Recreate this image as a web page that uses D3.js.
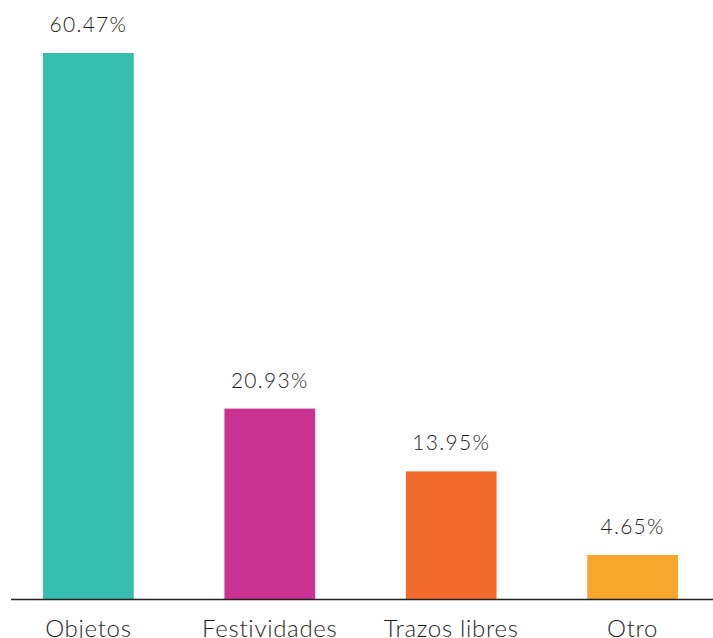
<!DOCTYPE html>
<html>
<head>
<meta charset="utf-8">
<script src="https://cdn.jsdelivr.net/npm/d3@7"></script>
<style>
  html, body { margin: 0; padding: 0; background: #fff; }
  svg { display: block; }
</style>
</head>
<body>
<svg id="chart" width="713" height="638"></svg>
<script>
const categories = ["Objetos", "Festividades", "Trazos libres", "Otro"];
const values = [60.47, 20.93, 13.95, 4.65];
const valueLabels = ["60.47%", "20.93%", "13.95%", "4.65%"];
const colors = ["#37BDAE", "#CC3391", "#F36A2D", "#F9A62C"];

const svg = d3.select("#chart");
const baseY = 599;

const x = d3.scaleBand()
  .domain(categories)
  .range([11, 710])
  .paddingInner(0.5)
  .paddingOuter(0.1765);

const y = d3.scaleLinear()
  .domain([-0.24, 60.47])
  .range([baseY, 53]);

const data = categories.map((c, i) => ({ c, v: values[i], label: valueLabels[i], color: colors[i] }));

svg.selectAll("rect.bar")
  .data(data)
  .join("rect")
  .attr("class", "bar")
  .attr("x", d => x(d.c))
  .attr("width", x.bandwidth())
  .attr("y", d => y(d.v))
  .attr("height", d => baseY - y(d.v))
  .attr("fill", d => d.color);

svg.selectAll("text.val")
  .data(data)
  .join("text")
  .attr("class", "val")
  .attr("x", d => x(d.c) + x.bandwidth() / 2)
  .attr("y", d => y(d.v) - 21)
  .attr("text-anchor", "middle")
  .attr("font-family", "Lato, sans-serif")
  .attr("font-weight", 300)
  .attr("font-size", 21)
  .attr("letter-spacing", 1.3)
  .attr("fill", "#1e1e1e")
  .text(d => d.label);

svg.append("line")
  .attr("x1", 11).attr("x2", 713)
  .attr("y1", baseY + 0.5).attr("y2", baseY + 0.5)
  .attr("stroke", "#222")
  .attr("stroke-width", 1.5);

svg.selectAll("text.cat")
  .data(data)
  .join("text")
  .attr("class", "cat")
  .attr("x", d => x(d.c) + x.bandwidth() / 2)
  .attr("y", 637)
  .attr("text-anchor", "middle")
  .attr("font-family", "Lato, sans-serif")
  .attr("font-weight", 300)
  .attr("font-size", 24)
  .attr("letter-spacing", 0.7)
  .attr("fill", "#1e1e1e")
  .text(d => d.c);
</script>
</body>
</html>
